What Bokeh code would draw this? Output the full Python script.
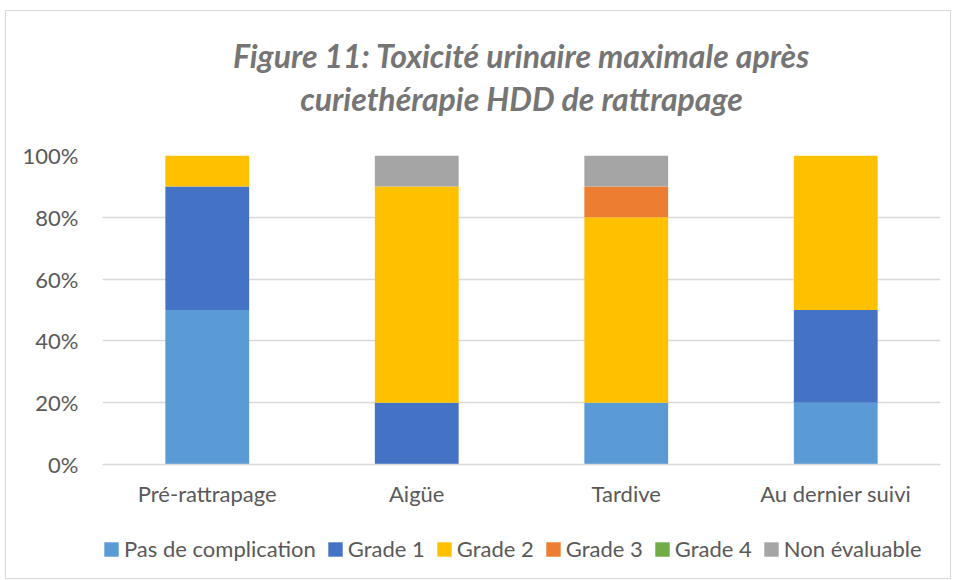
from bokeh.plotting import figure
from bokeh.layouts import column
from bokeh.models import FactorRange, Legend, LegendItem, PrintfTickFormatter, FixedTicker, ColumnDataSource, Title, Range1d
from bokeh.embed import file_html
from bokeh.resources import INLINE

categories = ["Pré-rattrapage", "Aigüe", "Tardive", "Au dernier suivi"]
series_names = ["Pas de complication", "Grade 1", "Grade 2", "Grade 3", "Grade 4", "Non évaluable"]
pas_de_complication = [50, 0, 20, 20]
grade_1 = [40, 20, 0, 30]
grade_2 = [10, 70, 60, 50]
grade_3 = [0, 0, 10, 0]
grade_4 = [0, 0, 0, 0]
non_evaluable = [0, 10, 10, 0]
y_ticks = [0, 20, 40, 60, 80, 100]
colors = ["#5B9BD5", "#4472C4", "#FFC000", "#ED7D31", "#70AD47", "#A5A5A5"]

FONT = "Lato"
TXT = "#595959"

keys = ["s0", "s1", "s2", "s3", "s4", "s5"]
source = ColumnDataSource(dict(cat=categories, s0=pas_de_complication, s1=grade_1, s2=grade_2,
                               s3=grade_3, s4=grade_4, s5=non_evaluable))

p = figure(width=944, height=521, x_range=FactorRange(*categories), y_range=(0, 100),
           output_backend="svg", toolbar_location=None,
           min_border_left=96, min_border_right=10, min_border_bottom=68, min_border_top=144)
p.title = None
spacer = Title(text=" ", text_font=FONT, text_font_size="28px", text_color="white", standoff=0)
t1 = Title(text="curiethérapie HDD de rattrapage", align="center", text_font=FONT,
           text_font_style="bold italic", text_font_size="32px", text_color="#757575", standoff=4)
t2 = Title(text="Figure 11: Toxicité urinaire maximale après", align="center", text_font=FONT,
           text_font_style="bold italic", text_font_size="32px", text_color="#757575", standoff=0)
p.add_layout(spacer, "above")
p.add_layout(t1, "above")
p.add_layout(t2, "above")

p.vbar_stack(keys, x="cat", width=0.4, color=colors, source=source, line_width=0)

p.yaxis.ticker = FixedTicker(ticks=y_ticks)
p.yaxis.formatter = PrintfTickFormatter(format="%d%%")
p.yaxis.axis_line_color = None
p.yaxis.major_tick_line_color = None
p.yaxis.minor_tick_line_color = None
p.yaxis.major_label_text_font = FONT
p.yaxis.major_label_text_font_size = "22px"
p.yaxis.major_label_text_color = TXT
p.yaxis.major_label_standoff = 18

p.xaxis.axis_line_color = "#D9D9D9"
p.xaxis.axis_line_width = 1.5
p.xaxis.major_tick_line_color = None
p.xaxis.minor_tick_line_color = None
p.xaxis.major_label_text_font = FONT
p.xaxis.major_label_text_font_size = "22px"
p.xaxis.major_label_text_color = TXT
p.xaxis.major_label_standoff = 9

p.xgrid.grid_line_color = None
p.ygrid.grid_line_color = "#D9D9D9"
p.ygrid.grid_line_width = 1.5
p.outline_line_color = None

# legend strip
lf = figure(width=944, height=46, x_range=Range1d(0, 1), y_range=Range1d(0, 1),
            output_backend="svg", toolbar_location=None, x_axis_location=None, y_axis_location=None,
            min_border_left=96, min_border_right=10, min_border_top=0, min_border_bottom=0)
lf.grid.grid_line_color = None
lf.outline_line_color = None
items = []
for name, c in zip(series_names, colors):
    swatch = ColumnDataSource(dict(x=[-1], top=[0]))
    r = lf.vbar(x="x", top="top", width=0.1, color=c, line_width=0, source=swatch)
    items.append(LegendItem(label=name, renderers=[r]))
legend = Legend(items=items, orientation="horizontal", location=(0, 16),
                label_text_font=FONT, label_text_font_size="22px", label_text_color=TXT,
                glyph_width=18, glyph_height=18, spacing=10, label_standoff=4,
                border_line_color=None, background_fill_alpha=0, margin=0, padding=0)
lf.add_layout(legend, "center")

layout = column(p, lf, spacing=0)
layout.styles = {"border": "1px solid #D9D9D9", "margin-left": "5px", "margin-top": "10px"}

open("out.html", "w").write(file_html(layout, INLINE))
